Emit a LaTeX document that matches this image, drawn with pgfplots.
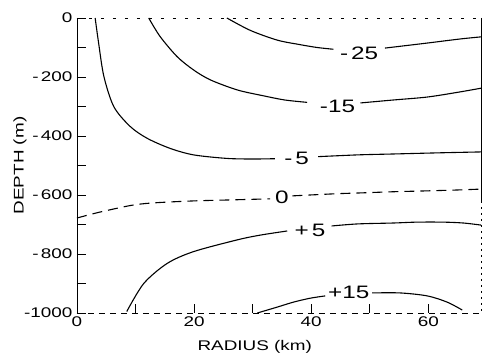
\documentclass[border=0pt]{standalone}
\usepackage{fontspec}
\setmainfont[FakeStretch=1.35]{Liberation Sans}
\usepackage{pgfplots}
\pgfplotsset{compat=1.18}
\begin{document}
\begin{tikzpicture}
\useasboundingbox (0,0) rectangle (483pt,355pt);
\begin{axis}[
  at={(77pt,42pt)}, anchor=south west,
  scale only axis, width=404pt, height=295pt,
  xmin=0, xmax=69, ymin=-1000, ymax=0,
  clip=false,
  axis line style={draw=none},
  xtick={0,20,40,60}, xticklabels={0,20,40,60},
  minor xtick={10,30,50},
  ytick={-1000,-800,-600,-400,-200,0},
  yticklabels={-1000,-\,800,-\,600,-\,400,-\,200,0},
  minor ytick={-900,-700,-500,-300,-100},
  xtick pos=left, ytick pos=left,
  tick align=inside,
  major tick length=9pt, minor tick length=9pt,
  tick style={black, line width=0.7pt},
  ticklabel style={font=\fontsize{14}{14}\selectfont},
  yticklabel style={xshift=-1pt},
  xlabel={RADIUS (km)}, ylabel={DEPTH (m)},
  label style={font=\fontsize{14}{14}\selectfont},
  xlabel style={at={(axis description cs:0.44,-0.115)}, anchor=center},
  ylabel style={at={(axis description cs:-0.141,0.5)}, anchor=center},
]
% frame
\draw[line width=0.9pt] (axis cs:0,0) -- (axis cs:0,-1000);
\draw[line width=0.9pt] (axis cs:69,0) -- (axis cs:69,-620);
\draw[line width=0.5pt, dash pattern=on 2pt off 4pt] (axis cs:69,-620) -- (axis cs:69,-1000);
\draw[line width=0.5pt, dash pattern=on 3pt off 9pt] (axis cs:0,0) -- (axis cs:69,0);
\draw[line width=0.5pt, dash pattern=on 6pt off 5pt] (axis cs:0,-1000) -- (axis cs:69,-1000);

% -25
\addplot[black, line width=1.1pt, smooth] coordinates {(25.6,0) (29.6,-42) (34.2,-75) (38,-90) (41,-100) (43.8,-106)};
\addplot[black, line width=1.1pt, smooth] coordinates {(52.6,-102) (56,-94) (59.8,-85) (65.5,-71) (69,-64)};
\node[font=\fontsize{18}{18}\selectfont] at (axis cs:48.2,-119) {-\,25};
% -15
\addplot[black, line width=1.1pt, smooth] coordinates {(12.25,0) (14.2,-63) (17.1,-131) (19.9,-176) (22.8,-210) (27.4,-244) (31.9,-264) (35.5,-278) (39.3,-286)};
\addplot[black, line width=1.1pt, smooth] coordinates {(48.4,-288) (54,-278) (59.8,-268) (65,-252) (69,-238)};
\node[font=\fontsize{18}{18}\selectfont] at (axis cs:44.5,-298) {-15};
% -5
\addplot[black, line width=1.1pt, smooth] coordinates {(3.1,0) (3.7,-86) (4.6,-199) (6.3,-301) (9.1,-368) (12,-408) (15.9,-442) (19.9,-464) (25.6,-476) (30,-478) (33.8,-477)};
\addplot[black, line width=1.1pt, smooth] coordinates {(41.2,-470) (48,-464) (54,-461) (62,-457) (69,-454)};
\node[font=\fontsize{18}{18}\selectfont] at (axis cs:37.5,-475) {-\,5};
% 0 (dashed)
\addplot[black, line width=1.1pt, smooth, dash pattern=on 10pt off 6pt] coordinates {(0,-678) (3.9,-658) (9.6,-634) (13.7,-626) (20,-620) (25.6,-617) (33,-613)};
\addplot[black, line width=1.1pt, smooth, dash pattern=on 10pt off 6pt] coordinates {(36.8,-603) (44,-596) (48.4,-593) (54,-589) (59.8,-586) (65,-583) (69,-580)};
\node[font=\fontsize{18}{18}\selectfont] at (axis cs:35,-608) {0};
% +5
\addplot[black, line width=1.1pt, smooth] coordinates {(8.5,-995) (11.4,-900) (15.4,-832) (19.9,-792) (27.4,-752) (31.3,-736) (35.9,-722)};
\addplot[black, line width=1.1pt, smooth] coordinates {(43.5,-705) (48,-698) (54,-695) (58,-692) (62.6,-692) (66,-695) (69,-702)};
\node[font=\fontsize{18}{18}\selectfont] at (axis cs:39.8,-719) {+\,5};
% +15
\addplot[black, line width=1.1pt, smooth] coordinates {(30.8,-1000) (34.2,-980) (37,-963) (39.8,-950) (42.4,-942)};
\addplot[black, line width=1.1pt, smooth] coordinates {(50.4,-932) (55.2,-932) (59.8,-942) (63.2,-963) (65.8,-990)};
\node[font=\fontsize{18}{18}\selectfont] at (axis cs:46.4,-929) {+15};
\end{axis}
\end{tikzpicture}
\end{document}
